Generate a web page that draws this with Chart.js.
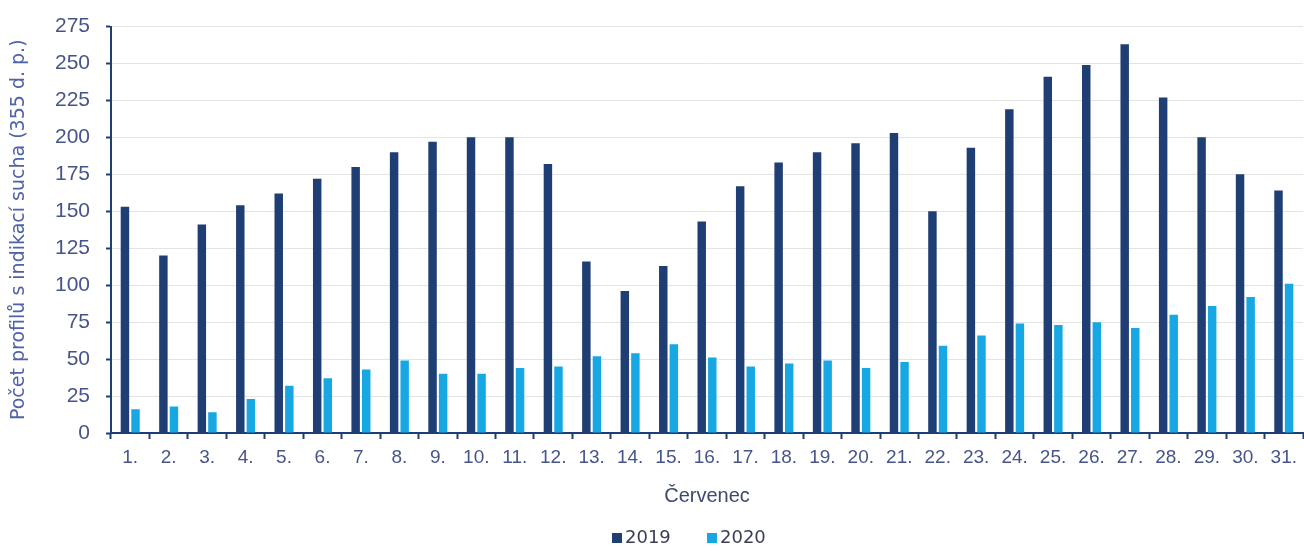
<!DOCTYPE html>
<html>
<head>
<meta charset="utf-8">
<script src="https://cdn.jsdelivr.net/npm/chart.js@4"></script>
<style>
  html, body { margin: 0; padding: 0; background: #ffffff; }
  #wrap { width: 1304px; height: 547px; position: relative; }
</style>
</head>
<body>
<div id="wrap"><canvas id="c" width="1304" height="547"></canvas></div>
<script>
// Days of July
const days = ['1.','2.','3.','4.','5.','6.','7.','8.','9.','10.','11.','12.','13.','14.','15.','16.',
              '17.','18.','19.','20.','21.','22.','23.','24.','25.','26.','27.','28.','29.','30.','31.'];

// Number of profiles indicating drought, per day
const values2019 = [153,120,141,154,162,172,180,190,197,200,200,182,116,96,113,143,
                    167,183,190,196,203,150,193,219,241,249,263,227,200,175,164];
const values2020 = [16,18,14,23,32,37,43,49,40,40,44,45,52,54,60,51,
                    45,47,49,44,48,59,66,74,73,75,71,80,86,92,101];

const yTicks = [0,25,50,75,100,125,150,175,200,225,250,275];

const NAVY = '#1f3e73';
const SKY = '#17a8e3';
const TEXT = '#47548a';

// Legend drawn below the axis title: small square + year for each dataset
const bottomLegend = {
  id: 'bottomLegend',
  afterDraw(chart) {
    const ctx = chart.ctx;
    const starts = [612, 707];
    const y = 538;
    ctx.save();
    ctx.font = '18px "DejaVu Sans"';
    ctx.textBaseline = 'middle';
    ctx.textAlign = 'left';
    chart.data.datasets.forEach((ds, i) => {
      const x = starts[i];
      ctx.fillStyle = ds.backgroundColor;
      ctx.fillRect(x, y - 5, 10, 10);
      ctx.fillStyle = '#3a3f58';
      ctx.fillText(ds.label, x + 13, y);
    });
    ctx.restore();
  }
};

new Chart(document.getElementById('c'), {
  type: 'bar',
  data: {
    labels: days,
    datasets: [
      { label: '2019', data: values2019, backgroundColor: NAVY,
        categoryPercentage: 0.55, barPercentage: 0.8 },
      { label: '2020', data: values2020, backgroundColor: SKY,
        categoryPercentage: 0.55, barPercentage: 0.8 }
    ]
  },
  plugins: [bottomLegend],
  options: {
    responsive: false,
    animation: false,
    devicePixelRatio: 1,
    layout: { padding: { top: 24, right: -6, bottom: 0, left: 0 } },
    plugins: {
      tooltip: { enabled: false },
      legend: { display: false }
    },
    scales: {
      x: {
        grid: { drawOnChartArea: false, offset: true, tickLength: 6, tickColor: NAVY, tickWidth: 2 },
        border: { color: NAVY, width: 2 },
        ticks: {
          color: TEXT, font: { family: 'Liberation Sans', size: 19 },
          padding: 7, maxRotation: 0, autoSkip: false
        },
        title: {
          display: true, text: 'Červenec', color: '#3f4872',
          font: { family: 'Liberation Sans', size: 20 },
          padding: { top: 0, bottom: 39 }
        },
        afterFit: (s) => { s.height = 114; }
      },
      y: {
        min: 0, max: 275,
        afterBuildTicks: (s) => { s.ticks = yTicks.map(v => ({ value: v })); },
        grid: { color: '#e4e4e4', lineWidth: 1, tickLength: 5, tickColor: NAVY, tickWidth: 2 },
        border: { color: NAVY, width: 2 },
        ticks: {
          color: TEXT, font: { family: 'Liberation Sans', size: 21, lineHeight: 1 },
          padding: 16
        },
        title: {
          display: true, text: 'Počet profilů s indikací sucha (355 d. p.)', color: '#5062a8',
          font: { family: 'DejaVu Sans', size: 19 },
          padding: { top: 8, bottom: 0 }
        },
        afterFit: (s) => { s.width = 111; }
      }
    }
  }
});
</script>
</body>
</html>
